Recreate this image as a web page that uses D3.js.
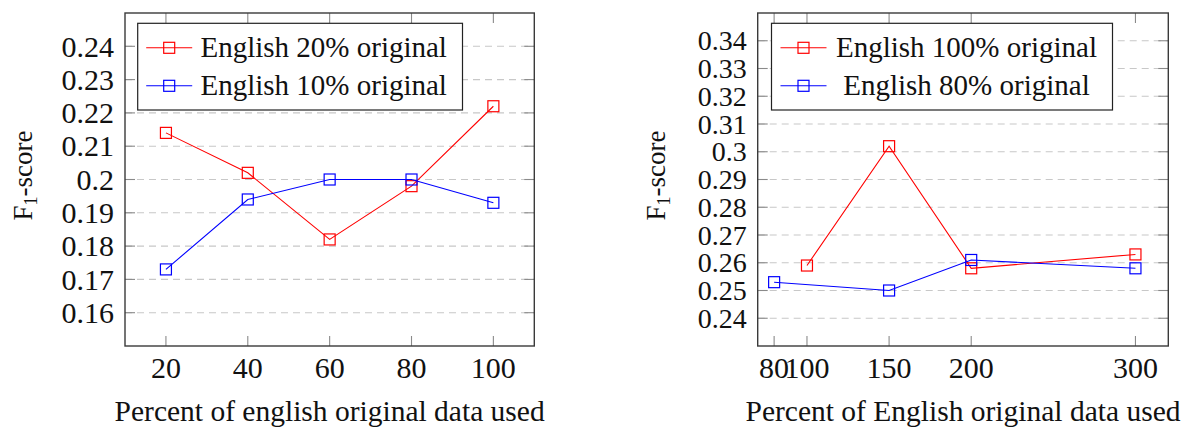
<!DOCTYPE html>
<html>
<head>
<meta charset="utf-8">
<script src="https://cdn.jsdelivr.net/npm/d3@7/dist/d3.min.js"></script>
<style>
  html, body { margin: 0; padding: 0; background: #fff; }
  svg { display: block; }
</style>
</head>
<body>
<svg id="chart" width="1197" height="431" font-family="'Liberation Serif', 'DejaVu Serif', 'Noto Serif', 'Times New Roman', serif"></svg>
<script>
// ---------- Data ----------
const leftX = [20, 40, 60, 80, 100];
const leftRed = [0.214, 0.202, 0.182, 0.198, 0.222];   // English 20% original
const leftBlue = [0.173, 0.194, 0.200, 0.200, 0.193];  // English 10% original
const leftXTicks = [20, 40, 60, 80, 100];
const leftYTicks = [0.16, 0.17, 0.18, 0.19, 0.2, 0.21, 0.22, 0.23, 0.24];
const leftYTickLabels = ["0.16", "0.17", "0.18", "0.19", "0.2", "0.21", "0.22", "0.23", "0.24"];
const leftSeriesNames = ["English 20% original", "English 10% original"];

const rightRedX = [100, 150, 200, 300];
const rightRed = [0.259, 0.302, 0.258, 0.263];        // English 100% original
const rightBlueX = [80, 150, 200, 300];
const rightBlue = [0.253, 0.250, 0.261, 0.258];       // English 80% original
const rightXTicks = [80, 100, 150, 200, 300];
const rightYTicks = [0.24, 0.25, 0.26, 0.27, 0.28, 0.29, 0.3, 0.31, 0.32, 0.33, 0.34];
const rightYTickLabels = ["0.24", "0.25", "0.26", "0.27", "0.28", "0.29", "0.3", "0.31", "0.32", "0.33", "0.34"];
const rightSeriesNames = ["English 100% original", "English 80% original"];

const xTitles = ["Percent of english original data used", "Percent of English original data used"];

// ---------- Drawing ----------
const FONT = "'Liberation Serif', 'DejaVu Serif', serif";
const svg = d3.select("#chart");
const RED = "#ff0000", BLUE = "#0000ff";

function drawPanel(cfg) {
  const g = svg.append("g").attr("font-family", FONT).attr("fill", "#111");
  const x = d3.scaleLinear().domain(cfg.xDomain).range([cfg.left, cfg.right]);
  const y = d3.scaleLinear().domain(cfg.yDomain).range([cfg.bottom, cfg.top]);
  const tickLen = 10;

  // grid lines (horizontal, dashed)
  g.append("g").selectAll("line").data(cfg.yTicks).join("line")
    .attr("x1", cfg.left).attr("x2", cfg.right)
    .attr("y1", d => y(d)).attr("y2", d => y(d))
    .attr("stroke", "#c8c8c8").attr("stroke-width", 1.1)
    .attr("stroke-dasharray", "7,5");

  // tick marks (inside, on all sides)
  const tg = g.append("g").attr("stroke", "#8a8a8a").attr("stroke-width", 1.1);
  cfg.yTicks.forEach(t => {
    tg.append("line").attr("x1", cfg.left).attr("x2", cfg.left + tickLen).attr("y1", y(t)).attr("y2", y(t));
    tg.append("line").attr("x1", cfg.right).attr("x2", cfg.right - tickLen).attr("y1", y(t)).attr("y2", y(t));
  });
  cfg.xTicks.forEach(t => {
    tg.append("line").attr("x1", x(t)).attr("x2", x(t)).attr("y1", cfg.bottom).attr("y2", cfg.bottom - tickLen);
    tg.append("line").attr("x1", x(t)).attr("x2", x(t)).attr("y1", cfg.top).attr("y2", cfg.top + tickLen);
  });

  // frame
  g.append("rect")
    .attr("x", cfg.left).attr("y", cfg.top)
    .attr("width", cfg.right - cfg.left).attr("height", cfg.bottom - cfg.top)
    .attr("fill", "none").attr("stroke", "#3a3a3a").attr("stroke-width", 1.4);

  // tick labels
  g.append("g").selectAll("text").data(cfg.yTicks).join("text")
    .attr("font-family", FONT)
    .attr("x", cfg.left - 11).attr("y", d => y(d)).attr("dy", "0.34em")
    .attr("text-anchor", "end").attr("font-size", cfg.yFont)
    .text((d, i) => cfg.yTickLabels[i]);
  g.append("g").selectAll("text").data(cfg.xTicks).join("text")
    .attr("font-family", FONT)
    .attr("x", d => x(d)).attr("y", cfg.bottom + 32)
    .attr("text-anchor", "middle").attr("font-size", 30)
    .text(d => d);

  // axis titles
  g.append("text")
    .attr("font-family", FONT)
    .attr("x", (cfg.left + cfg.right) / 2).attr("y", 421)
    .attr("text-anchor", "middle").attr("font-size", 29.5)
    .text(cfg.xTitle);
  const yl = g.append("text")
    .attr("font-family", FONT)
    .attr("transform", `translate(${cfg.left - 93},${(cfg.top + cfg.bottom) / 2 - 4}) rotate(-90)`)
    .attr("text-anchor", "middle").attr("font-size", 27);
  yl.append("tspan").text("F");
  yl.append("tspan").attr("font-size", 18).attr("dy", 5).text("1");
  yl.append("tspan").attr("dy", -5).text("-score");

  // series
  const line = d3.line().x(d => x(d[0])).y(d => y(d[1]));
  const ms = 11;
  cfg.series.forEach(s => {
    const pts = s.xs.map((xv, i) => [xv, s.ys[i]]);
    g.append("path").datum(pts).attr("d", line)
      .attr("fill", "none").attr("stroke", s.color).attr("stroke-width", 1.1);
    g.append("g").selectAll("rect").data(pts).join("rect")
      .attr("x", d => x(d[0]) - ms / 2).attr("y", d => y(d[1]) - ms / 2)
      .attr("width", ms).attr("height", ms)
      .attr("fill", "none").attr("stroke", s.color).attr("stroke-width", 1.2);
  });

  // legend
  const L = cfg.legend;
  g.append("rect").attr("x", L.x).attr("y", L.y).attr("width", L.w).attr("height", L.h)
    .attr("fill", "#fff").attr("stroke", "#222").attr("stroke-width", 1.2);
  cfg.series.forEach((s, i) => {
    const cy = L.y + 24.5 + i * 38;
    g.append("line").attr("x1", L.x + L.lineX0).attr("x2", L.x + L.lineX1)
      .attr("y1", cy).attr("y2", cy).attr("stroke", s.color).attr("stroke-width", 1.1);
    const mx = (L.x + L.lineX0 + L.x + L.lineX1) / 2;
    g.append("rect").attr("x", mx - ms / 2).attr("y", cy - ms / 2).attr("width", ms).attr("height", ms)
      .attr("fill", "none").attr("stroke", s.color).attr("stroke-width", 1.2);
    g.append("text").attr("font-family", FONT)
      .attr("x", L.x + L.textC).attr("y", cy).attr("dy", "0.33em")
      .attr("text-anchor", "middle").attr("font-size", 29)
      .text(s.name);
  });
}

drawPanel({
  left: 125, right: 534.3, top: 13, bottom: 346,
  xDomain: [10, 110], yDomain: [0.15, 0.25],
  xTicks: leftXTicks, yTicks: leftYTicks, yTickLabels: leftYTickLabels, yFont: 30,
  xTitle: xTitles[0],
  series: [
    { xs: leftX, ys: leftRed, color: RED, name: leftSeriesNames[0] },
    { xs: leftX, ys: leftBlue, color: BLUE, name: leftSeriesNames[1] }
  ],
  legend: { x: 137.7, y: 23.3, w: 324.8, h: 86.7, lineX0: 8.5, lineX1: 54.5, textC: 186 }
});

drawPanel({
  left: 757.7, right: 1168.3, top: 13, bottom: 346,
  xDomain: [70, 320], yDomain: [0.23, 0.35],
  xTicks: rightXTicks, yTicks: rightYTicks, yTickLabels: rightYTickLabels, yFont: 28,
  xTitle: xTitles[1],
  series: [
    { xs: rightRedX, ys: rightRed, color: RED, name: rightSeriesNames[0] },
    { xs: rightBlueX, ys: rightBlue, color: BLUE, name: rightSeriesNames[1] }
  ],
  legend: { x: 771.5, y: 23.3, w: 341, h: 86.7, lineX0: 9, lineX1: 55, textC: 195 }
});
</script>
</body>
</html>
